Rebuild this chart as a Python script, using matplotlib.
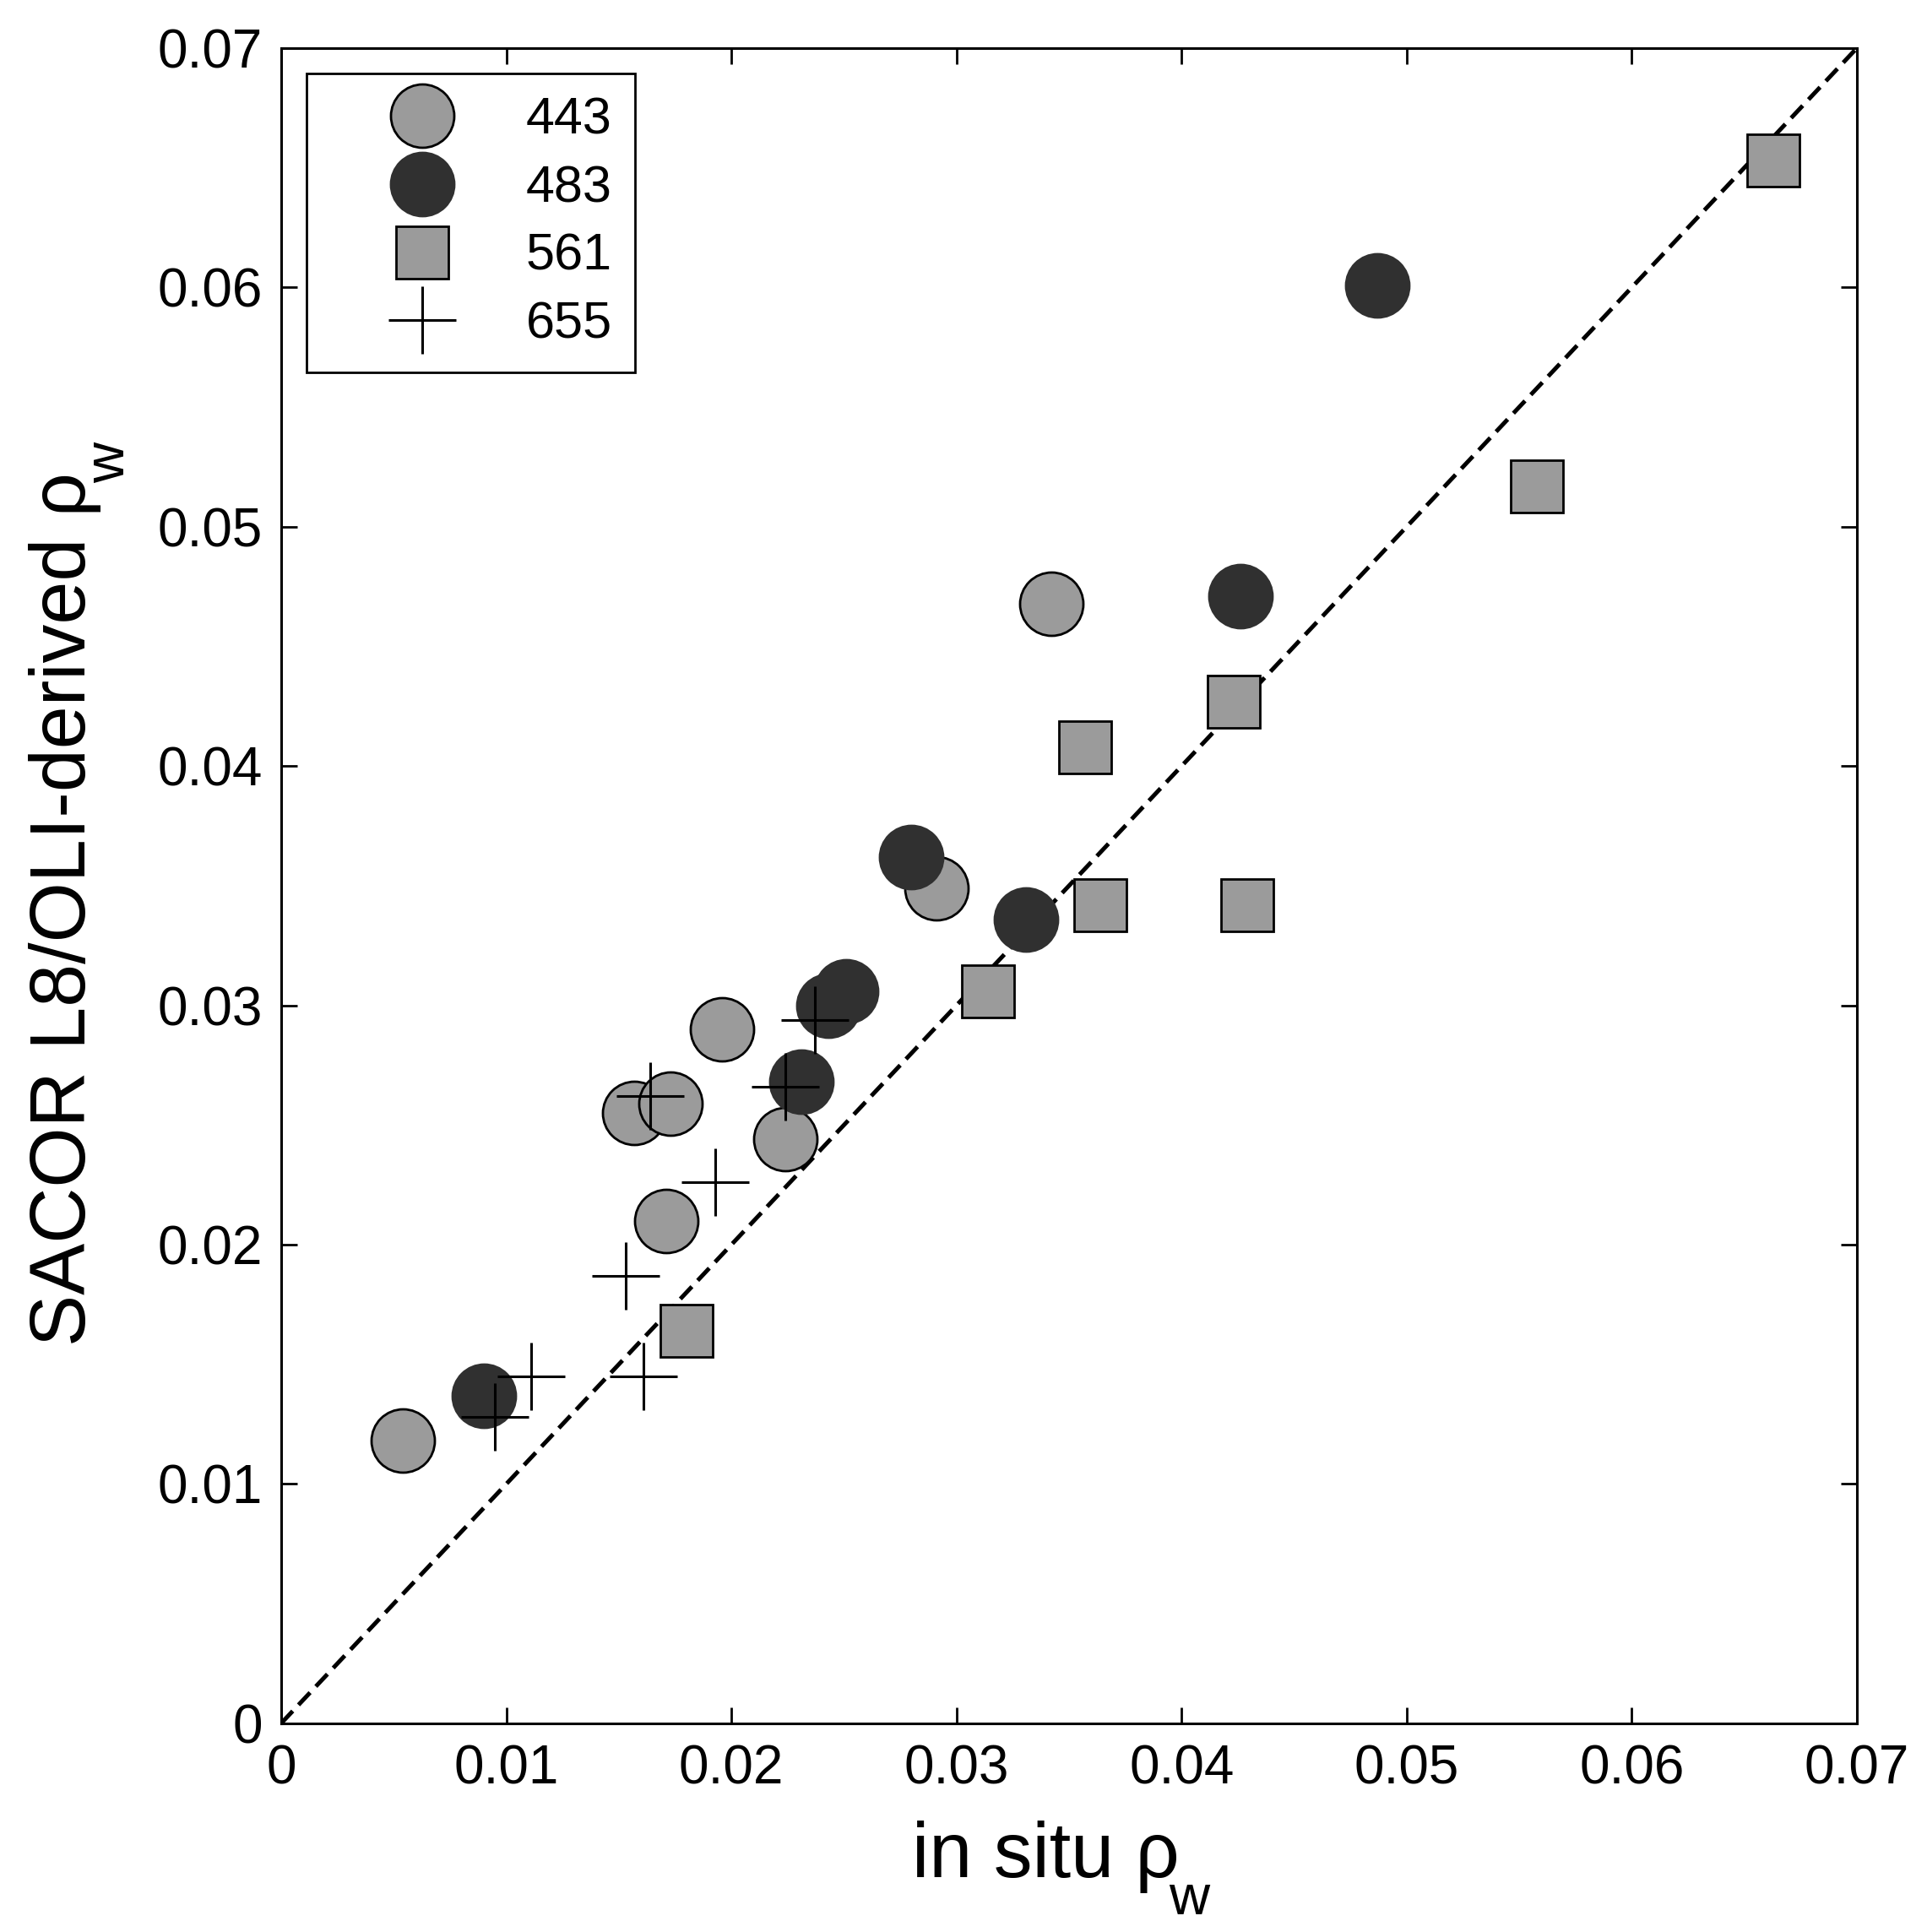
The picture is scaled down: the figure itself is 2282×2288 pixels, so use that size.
import numpy as np
import matplotlib
matplotlib.use('Agg')
import matplotlib.pyplot as plt
from matplotlib.ticker import FuncFormatter

plt.rcParams['font.family'] = ['Liberation Sans', 'DejaVu Sans']

# in situ vs SACOR-derived rho_w for each band
x_443 = [0.0054, 0.0171, 0.0157, 0.0173, 0.0196, 0.0224, 0.0291, 0.0342]
y_443 = [0.0118, 0.0210, 0.0255, 0.0259, 0.0290, 0.0244, 0.0349, 0.0468]

x_483 = [0.0090, 0.0231, 0.0243, 0.0251, 0.0280, 0.0331, 0.0426, 0.0487]
y_483 = [0.0137, 0.0268, 0.0300, 0.0306, 0.0362, 0.0336, 0.0471, 0.0601]

x_561 = [0.0180, 0.0314, 0.0364, 0.0357, 0.0423, 0.0429, 0.0558, 0.0663]
y_561 = [0.0164, 0.0306, 0.0342, 0.0408, 0.0427, 0.0342, 0.0517, 0.0653]

x_655 = [0.0095, 0.0111, 0.0161, 0.0153, 0.0193, 0.0164, 0.0224, 0.0237]
y_655 = [0.0128, 0.0145, 0.0145, 0.0187, 0.0226, 0.0262, 0.0266, 0.0294]

ticks = [0, 0.01, 0.02, 0.03, 0.04, 0.05, 0.06, 0.07]

fig = plt.figure(figsize=(11.41, 11.44), dpi=200)
ax = fig.add_axes([0.1459, 0.1080, 0.8177, 0.8671])

ax.plot([0, 0.07], [0, 0.07], '--', color='black', lw=1.8, dashes=(4, 2), zorder=1)

ax.plot(x_443, y_443, 'o', ms=27, mfc='#9b9b9b', mec='black', mew=1.0, label='443', zorder=2)
ax.plot(x_483, y_483, 'o', ms=27, mfc='#303030', mec='#303030', mew=1.0, label='483', zorder=3)
ax.plot(x_561, y_561, 's', ms=22, mfc='#9b9b9b', mec='black', mew=1.0, label='561', zorder=4)
ax.plot(x_655, y_655, '+', ms=29, color='black', mew=1.1, label='655', zorder=5)

ax.set_xlim(0, 0.07)
ax.set_ylim(0, 0.07)
ax.set_xticks(ticks)
ax.set_yticks(ticks)
fmt = FuncFormatter(lambda v, p: '0' if abs(v) < 1e-9 else f'{v:.2f}')
ax.xaxis.set_major_formatter(fmt)
ax.yaxis.set_major_formatter(fmt)
ax.tick_params(direction='in', length=7, width=1, labelsize=23, top=True, right=True)
ax.tick_params(axis='x', pad=9)
ax.tick_params(axis='y', pad=8)
for s in ax.spines.values():
    s.set_linewidth(1.1)

# labels: rho with a large, low subscript w added next to it
xl = ax.set_xlabel('in situ \u03c1', fontsize=33, labelpad=11)
yl = ax.set_ylabel('SACOR L8/OLI-derived \u03c1', fontsize=33, labelpad=24)
xl.set_x(0.485)
yl.set_y(0.486)
ax.annotate('w', xy=(1, 0), xycoords=xl, xytext=(-4.5, -9), textcoords='offset points',
            fontsize=24, ha='left', va='baseline', annotation_clip=False)
ax.annotate('w', xy=(1, 1), xycoords=yl, xytext=(-7.5, -4.5), textcoords='offset points',
            fontsize=24, rotation=90, ha='left', va='bottom', annotation_clip=False)

leg = ax.legend(loc='upper left', bbox_to_anchor=(0.016, 0.985), fontsize=22,
                frameon=True, fancybox=False, edgecolor='black', framealpha=1,
                handlelength=3.6, handletextpad=0.2, labelspacing=0.39,
                borderpad=0.45, borderaxespad=0)
leg.get_frame().set_linewidth(1.0)

fig.savefig('out.png', dpi=200)
